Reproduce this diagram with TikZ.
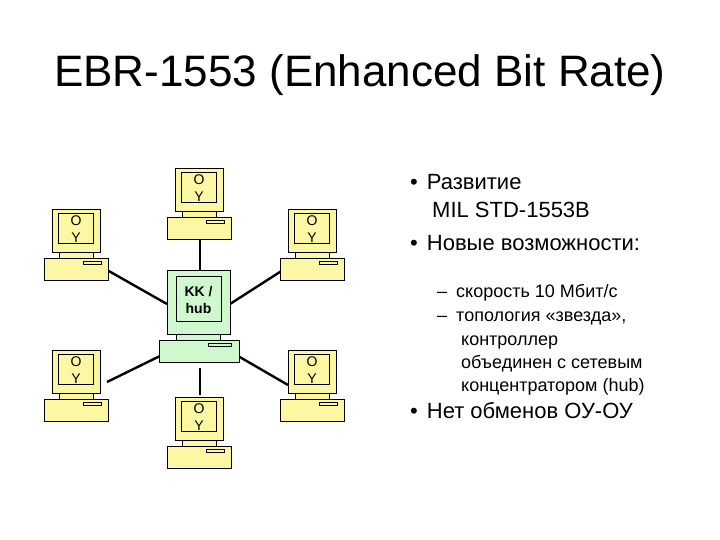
\documentclass[tikz,border=0pt]{standalone}
\usepackage{fontspec}
\setmainfont{Liberation Sans}
\begin{document}
\begin{tikzpicture}[x=1pt,y=-1pt,
  box/.style={draw=black,line width=0.6pt},
  wire/.style={line width=2.4pt},
  lbl/.style={font=\fontsize{14}{14}\selectfont,align=center,inner sep=0},
  txt/.style={anchor=base west,inner sep=0,font=\fontsize{22}{22}\selectfont},
  sub/.style={anchor=base west,inner sep=0,font=\fontsize{18}{18}\selectfont}]
\useasboundingbox (0,0) rectangle (720,540);
\newcommand{\comp}[7]{%
  \pgfmathsetmacro{\mxa}{#2}\pgfmathsetmacro{\mxb}{#2+#4}
  \pgfmathsetmacro{\mya}{#3}\pgfmathsetmacro{\myb}{#3+#5}
  \fill[#6,box] (\mxa,\mya) rectangle (\mxb,\myb);
  \fill[#6,box] (\mxa+0.14*#4,\mya+0.1*#5) rectangle (\mxb-0.14*#4,\myb-0.2*#5);
  \fill[#6,box] (\mxa+0.15*#4,\myb) rectangle (\mxb-0.15*#4,\myb+6);
  \fill[#6,box] (\mxa-5-0.05*#4,\myb+6) rectangle (\mxb+6+0.05*#4,\myb+28);
  \draw[box,fill=#6] (\mxb-0.35*#4,\myb+9.5) rectangle (\mxb+0.02*#4,\myb+12.5);
  \node[lbl] (#1) at ({#2+#4/2},{#3+0.47*#5}) {#7};
}
\definecolor{yel}{HTML}{FBF7A2}
\definecolor{grn}{HTML}{CFF8CF}
\draw[wire] (200,238) -- (200,270);
\draw[wire] (107,270) -- (167,304);
\draw[wire] (283,270) -- (230,304);
\draw[wire] (200,368) -- (200,395);
\draw[wire] (160,356) -- (107,382);
\draw[wire] (238,356) -- (288,385);
\comp{t}{175}{168}{48}{43}{yel}{O\\[3pt]Y}
\comp{lt}{52}{209}{48}{43}{yel}{O\\[3pt]Y}
\comp{rt}{288}{209}{48}{43}{yel}{O\\[3pt]Y}
\comp{lb}{52}{350}{48}{43}{yel}{O\\[3pt]Y}
\comp{rb}{288}{350}{48}{43}{yel}{O\\[3pt]Y}
\comp{b}{175}{397}{48}{43}{yel}{O\\[3pt]Y}
\comp{hub}{167}{270}{63}{64}{grn}{\bfseries KK /\\[3pt]\bfseries hub}
\node[inner sep=0,font=\fontsize{44}{44}\selectfont] (title) at (360,75) {EBR-1553 (Enhanced Bit Rate)};
\node[txt] (b1) at (410,190) {•\hspace{9pt}Развитие};
\node[txt] (b1b) at (432,218) {MIL STD-1553B};
\node[txt] (b2) at (410,251) {•\hspace{9pt}Новые возможности:};
\node[sub] (s1) at (437,297) {–\hspace{9pt}скорость 10 Мбит/с};
\node[sub] (s2) at (437,321) {–\hspace{9pt}топология «звезда»,};
\node[sub] (s3) at (461,345) {контроллер};
\node[sub] (s4) at (461,368) {объединен с сетевым};
\node[sub] (s5) at (461,391) {концентратором (hub)};
\node[txt] (b3) at (410,418) {•\hspace{9pt}Нет обменов ОУ-ОУ};
\end{tikzpicture}
\end{document}
